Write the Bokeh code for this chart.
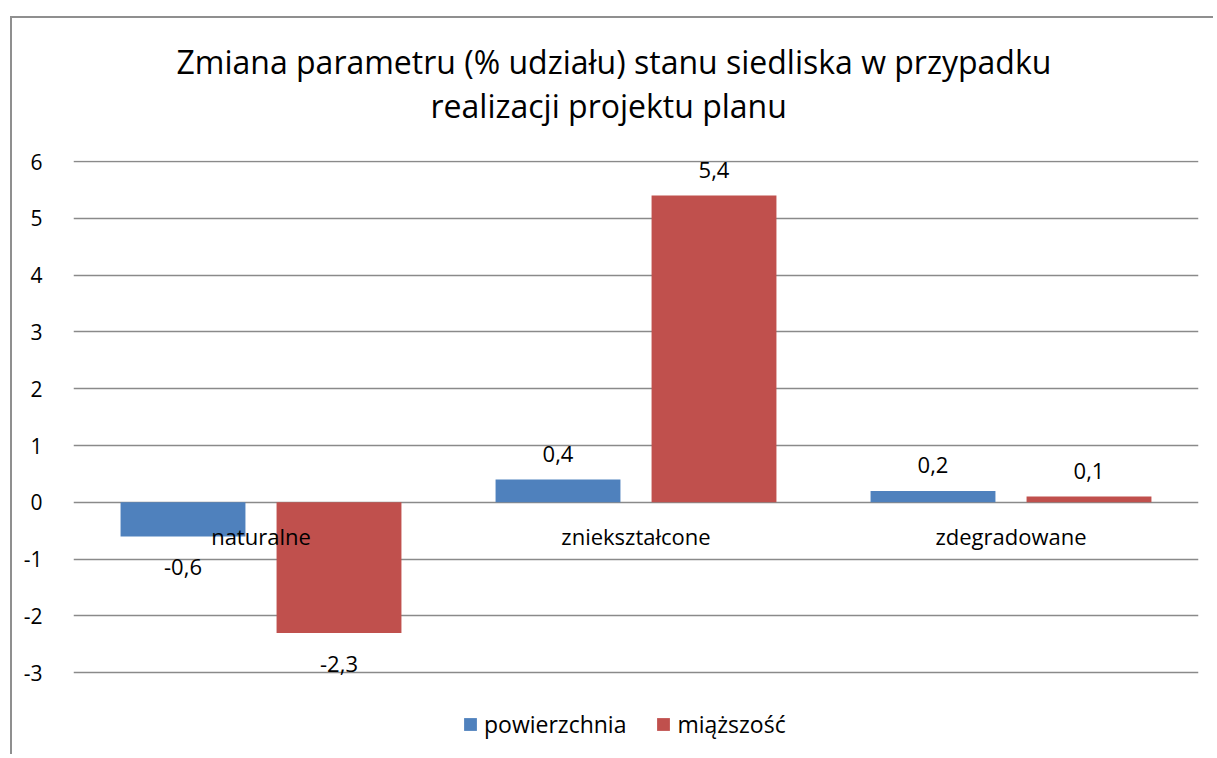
from bokeh.plotting import figure
from bokeh.models import (FactorRange, Range1d, FixedTicker, Legend, LegendItem,
                          ColumnDataSource, Title, CustomJSTickFormatter)
from bokeh.transform import dodge
from bokeh.core.properties import value
from bokeh.embed import file_html
from bokeh.resources import INLINE

# ---- data ----
categories = ["naturalne", "zniekształcone", "zdegradowane"]
powierzchnia = [-0.6, 0.4, 0.2]
miazszosc = [-2.3, 5.4, 0.1]
series_names = ["powierzchnia", "miąższość"]
y_ticks = [-3, -2, -1, 0, 1, 2, 3, 4, 5, 6]
title_lines = ["Zmiana parametru (% udziału) stanu siedliska w przypadku",
               "realizacji projektu planu"]

# ---- style ----
FONT = "Open Sans"
BLUE = "#4F81BD"
RED = "#C0504D"
GRID = "#8a8a8a"

W, H = 1203, 738
LEFT, RIGHT, TOP, BOTTOM = 61, 17, 142, 2
frame_h = H - TOP - BOTTOM
px_per_unit = 56.8
y_end = 6 + 1.0 / px_per_unit
y_start = y_end - frame_h / px_per_unit


def fmt(v):
    return ("%.1f" % v).replace(".", ",")


def label_offsets(vals):
    return [-26 if v >= 0 else 31 for v in vals]


src = ColumnDataSource(dict(
    cat=categories,
    pow=powierzchnia,
    mia=miazszosc,
    pow_txt=[fmt(v) for v in powierzchnia],
    mia_txt=[fmt(v) for v in miazszosc],
    pow_off=label_offsets(powierzchnia),
    mia_off=label_offsets(miazszosc),
))

p = figure(width=W, height=H, x_range=FactorRange(*categories, range_padding=0),
           y_range=Range1d(y_start, y_end), output_backend="svg", toolbar_location=None,
           min_border_left=LEFT, min_border_right=RIGHT, min_border_top=TOP,
           min_border_bottom=BOTTOM)
p.title = None
p.outline_line_color = None
p.background_fill_color = "white"
p.border_fill_color = "white"
p.styles = {"margin-left": "10px", "margin-top": "16px",
            "border-left": "2px solid #8f8f8f", "border-top": "2px solid #8f8f8f"}

OFF = 0.208
BW = 0.333
r1 = p.vbar(x=dodge("cat", -OFF, range=p.x_range), top="pow", bottom=0, width=BW,
            source=src, fill_color=BLUE, line_color=None)
r2 = p.vbar(x=dodge("cat", OFF, range=p.x_range), top="mia", bottom=0, width=BW,
            source=src, fill_color=RED, line_color=None)

p.text(x=dodge("cat", -OFF, range=p.x_range), y="pow", text="pow_txt", y_offset="pow_off",
       source=src, text_align="center", text_baseline="middle",
       text_font=value(FONT), text_font_size="22px", text_color="#000000")
p.text(x=dodge("cat", OFF, range=p.x_range), y="mia", text="mia_txt", y_offset="mia_off",
       source=src, text_align="center", text_baseline="middle",
       text_font=value(FONT), text_font_size="22px", text_color="#000000")

# y axis
p.yaxis.ticker = FixedTicker(ticks=y_ticks)
p.yaxis.formatter = CustomJSTickFormatter(code="return tick.toString();")
p.yaxis.axis_line_color = None
p.yaxis.major_tick_line_color = None
p.yaxis.minor_tick_line_color = None
p.yaxis.major_label_standoff = 25
p.yaxis.major_label_text_font = FONT
p.yaxis.major_label_text_font_size = "21px"
p.yaxis.major_label_text_color = "#000000"

# x axis crossing at zero
p.xaxis.fixed_location = 0
p.xaxis.axis_line_color = None
p.xaxis.major_tick_line_color = None
p.xaxis.minor_tick_line_color = None
p.xaxis.major_label_standoff = 13
p.xaxis.major_label_text_font = FONT
p.xaxis.major_label_text_font_size = "22px"
p.xaxis.major_label_text_color = "#000000"

p.xgrid.grid_line_color = None
p.ygrid.ticker = FixedTicker(ticks=y_ticks)
p.ygrid.grid_line_color = GRID
p.ygrid.grid_line_width = 1.4

# titles (two centred lines)
t2 = Title(text=title_lines[1], align="left", offset=357, standoff=68,
           text_font=FONT, text_font_size="32px", text_font_style="normal",
           text_color="#000000")
t1 = Title(text=title_lines[0], align="left", offset=103, standoff=-70,
           text_font=FONT, text_font_size="32px", text_font_style="normal",
           text_color="#000000")
p.add_layout(t2, "above")
p.add_layout(t1, "above")

legend = Legend(items=[LegendItem(label=series_names[0], renderers=[r1]),
                       LegendItem(label=series_names[1], renderers=[r2])],
                location=(389, 14), orientation="horizontal",
                glyph_width=16, glyph_height=16, label_standoff=6, spacing=29,
                padding=0, margin=0, border_line_color=None,
                background_fill_alpha=0,
                label_text_font=FONT, label_text_font_size="23px",
                label_text_color="#000000")
p.add_layout(legend)

open("out.html", "w").write(file_html(p, INLINE))
